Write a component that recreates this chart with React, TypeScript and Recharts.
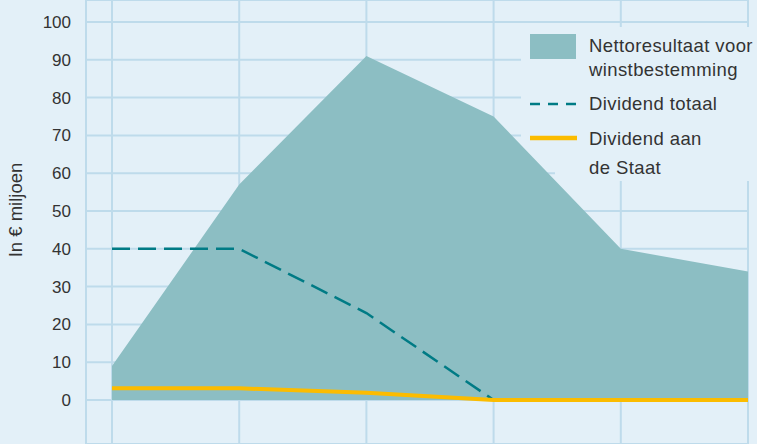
import React from 'react';
import { ComposedChart, Area, Line, XAxis, YAxis, CartesianGrid, Legend, ReferenceArea } from 'recharts';

const periods = [0, 1, 2, 3, 4, 5];
const nettoresultaat = [9, 57, 91, 75, 40, 34];
const dividendTotaal = [40, 40, 23, 0, 0, 0];
const dividendStaat = [3.1, 3.1, 1.9, 0, 0, 0];
const yTicks = [0, 10, 20, 30, 40, 50, 60, 70, 80, 90, 100];
const yAxisTitle = 'In € miljoen';
const legendNetto = ['Nettoresultaat voor', 'winstbestemming'];
const legendTotaal = ['Dividend totaal'];
const legendStaat = ['Dividend aan', 'de Staat'];

const data = periods.map((p, i) => ({
  p,
  netto: nettoresultaat[i],
  totaal: dividendTotaal[i],
  staat: dividendStaat[i],
}));

const BG = '#e3f0f8';
const GRID = '#bedbeb';
const AREA = '#8cbec3';
const TEAL = '#007b85';
const YELLOW = '#fbbc00';
const TEXT = '#333333';
const FONT = '"Liberation Sans", Arial, sans-serif';

const legendText: React.CSSProperties = {
  position: 'absolute',
  left: 68,
  fontSize: 18.5,
  letterSpacing: 0.4,
  color: TEXT,
  fontFamily: FONT,
  whiteSpace: 'nowrap',
  lineHeight: '20px',
};

const LegendContent = () => (
  <div style={{ position: 'relative', width: 236, height: 154 }}>
    <div style={{ position: 'absolute', left: 9, top: 7, width: 46, height: 25, background: AREA }} />
    <div style={{ ...legendText, top: 9 }}>{legendNetto[0]}</div>
    <div style={{ ...legendText, top: 33 }}>{legendNetto[1]}</div>
    <svg style={{ position: 'absolute', left: 8, top: 75 }} width={50} height={4}>
      <line x1={1} y1={2} x2={48} y2={2} stroke={TEAL} strokeWidth={2.5} strokeDasharray="10 8" />
    </svg>
    <div style={{ ...legendText, top: 67 }}>{legendTotaal[0]}</div>
    <svg style={{ position: 'absolute', left: 8, top: 108 }} width={50} height={6}>
      <line x1={1} y1={3} x2={48} y2={3} stroke={YELLOW} strokeWidth={4.5} />
    </svg>
    <div style={{ ...legendText, top: 102 }}>{legendStaat[0]}</div>
    <div style={{ ...legendText, top: 131 }}>{legendStaat[1]}</div>
  </div>
);

const YTitle = () => (
  <text
    x={15}
    y={210}
    transform="rotate(-90, 15, 210)"
    textAnchor="middle"
    dominantBaseline="central"
    fill={TEXT}
    fontSize={18.5}
    fontFamily={FONT}
  >
    {yAxisTitle}
  </text>
);

export default function App() {
  return (
    <div style={{ position: 'absolute', left: 0, top: 0, width: 757, height: 444, background: BG }}>
      <ComposedChart
        width={757}
        height={444}
        data={data}
        margin={{ top: 0, right: 9, bottom: 0, left: 0 }}
      >
        <CartesianGrid stroke={GRID} strokeWidth={2} />
        <XAxis
          dataKey="p"
          type="number"
          domain={[-0.2044, 5]}
          ticks={periods}
          hide
          height={0}
        />
        <YAxis
          type="number"
          domain={[-11.64, 105.82]}
          ticks={yTicks}
          width={86}
          axisLine={false}
          tickLine={false}
          tickSize={0}
          tickMargin={15}
          tick={{ fill: TEXT, fontSize: 17, fontFamily: FONT }}
          allowDataOverflow
          label={<YTitle />}
        />
        <ReferenceArea
          x1={3.2154}
          x2={5.08}
          y1={63.5}
          y2={98.68}
          fill={BG}
          fillOpacity={1}
          stroke="none"
          ifOverflow="visible"
        />
        <ReferenceArea
          x1={3.4827}
          x2={5.08}
          y1={57.94}
          y2={64}
          fill={BG}
          fillOpacity={1}
          stroke="none"
          ifOverflow="visible"
        />
        <Area
          dataKey="netto"
          type="linear"
          fill={AREA}
          fillOpacity={1}
          stroke="none"
          baseValue={0}
          isAnimationActive={false}
        />
        <Line
          dataKey="totaal"
          type="linear"
          stroke={TEAL}
          strokeWidth={2.5}
          strokeDasharray="18 8"
          dot={false}
          activeDot={false}
          isAnimationActive={false}
        />
        <Line
          dataKey="staat"
          type="linear"
          stroke={YELLOW}
          strokeWidth={4}
          dot={false}
          activeDot={false}
          isAnimationActive={false}
        />
        <Legend
          layout="horizontal"
          verticalAlign="middle"
          align="center"
          content={<LegendContent />}
          wrapperStyle={{ left: 521, top: 27, width: 236, height: 154 }}
        />
      </ComposedChart>
    </div>
  );
}
